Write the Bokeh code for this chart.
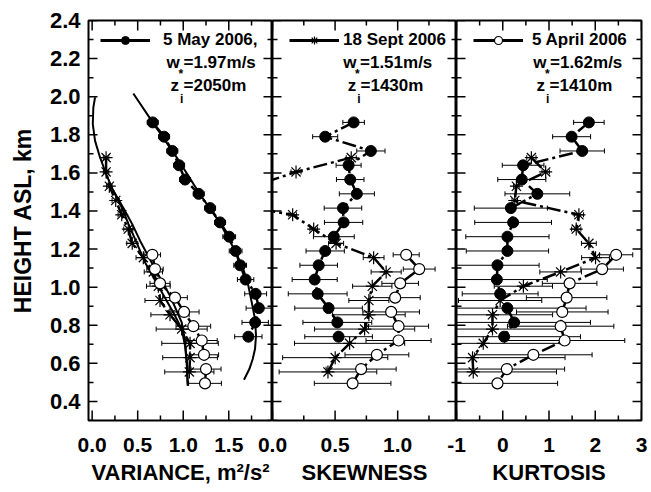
import math
from bokeh.plotting import figure
from bokeh.models import (Range1d, LinearAxis, FixedTicker, Legend, LegendItem, Label,
                          PrintfTickFormatter)
from bokeh.layouts import row
from bokeh.embed import file_html
from bokeh.resources import INLINE

FONT = "Liberation Sans"
NAN = float("nan")

# ---------------- data ----------------
# 5 May 2006 (filled circles)
h_may = [1.865, 1.79, 1.715, 1.64, 1.565, 1.49, 1.415, 1.34, 1.265, 1.19, 1.115, 1.04, 0.965, 0.89, 0.815, 0.74]
var_may = [0.665, 0.79, 0.88, 0.955, 1.02, 1.17, 1.295, 1.405, 1.505, 1.575, 1.625, 1.685, 1.795, 1.83, 1.79, 1.715]
var_may_err = [0.06, 0.06, 0.06, 0.06, 0.06, 0.06, 0.06, 0.06, 0.07, 0.07, 0.07, 0.09, 0.12, 0.14, 0.145, 0.15]
skew_may = [0.648, 0.421, 0.786, 0.608, 0.621, 0.674, 0.563, 0.568, 0.49, 0.421, 0.369, 0.337, 0.361, 0.448, 0.518, 0.528]
skew_may_err = [0.086, 0.10, 0.113, 0.10, 0.11, 0.14, 0.15, 0.153, 0.163, 0.153, 0.15, 0.18, 0.235, 0.27, 0.275, 0.27]
kurt_may = [1.862, 1.489, 1.718, 0.440, 0.412, 0.748, 0.175, 0.224, 0.101, 0.101, -0.114, -0.127, -0.056, 0.101, 0.246, 0.030]
kurt_may_err = [0.33, 0.41, 0.48, 0.45, 0.52, 0.70, 0.79, 0.83, 0.90, 0.89, 0.90, 1.09, 0.82, 1.70, 1.65, 1.65]

# 18 Sept 2006 (asterisks)
h_sept = [1.68, 1.605, 1.53, 1.455, 1.38, 1.305, 1.23, 1.155, 1.08, 1.005, 0.93, 0.855, 0.78, 0.705, 0.63, 0.555]
var_sept = [0.153, 0.153, 0.189, 0.259, 0.325, 0.397, 0.44, 0.562, 0.672, 0.727, 0.745, 0.855, 0.983, 1.075, 1.075, 1.067]
var_sept_err = [0.03, 0.03, 0.03, 0.04, 0.04, 0.05, 0.06, 0.08, 0.10, 0.13, 0.165, 0.21, 0.28, 0.31, 0.30, 0.27]
skew_sept = [0.629, 0.188, -0.15, -0.5, 0.161, 0.329, 0.508, 0.808, 0.908, 0.797, 0.770, 0.770, 0.736, 0.616, 0.501, 0.443]
skew_sept_err = [0.04, 0.04, 0.04, 0.04, 0.03, 0.03, 0.06, 0.083, 0.12, 0.157, 0.16, 0.29, 0.40, 0.44, 0.42, 0.39]
kurt_sept = [0.619, 0.928, 0.295, 0.260, 1.647, 1.589, 1.862, 2.006, 1.252, 0.446, -0.056, -0.222, -0.222, -0.422, -0.653, -0.638]
kurt_sept_err = [0.10, 0.08, 0.06, 0.06, 0.10, 0.10, 0.16, 0.30, 0.45, 0.63, 0.90, 1.30, 1.50, 1.80, 2.00, 1.80]

# 5 April 2006 (open circles)
h_april = [1.17, 1.095, 1.02, 0.945, 0.87, 0.795, 0.72, 0.645, 0.57, 0.495]
var_april = [0.661, 0.690, 0.745, 0.910, 1.009, 1.111, 1.203, 1.228, 1.250, 1.239]
var_april_err = [0.09, 0.09, 0.11, 0.135, 0.165, 0.19, 0.17, 0.16, 0.165, 0.18]
skew_april = [1.068, 1.172, 1.020, 0.980, 0.948, 1.007, 1.007, 0.834, 0.708, 0.640]
skew_april_err = [0.104, 0.127, 0.146, 0.20, 0.226, 0.24, 0.26, 0.255, 0.28, 0.306]
kurt_april = [2.451, 2.149, 1.446, 1.381, 1.287, 1.252, 1.338, 0.662, 0.088, -0.114]
kurt_april_err = [0.36, 0.46, 0.59, 0.87, 0.99, 1.15, 1.30, 1.27, 1.25, 1.30]

# fitted variance profiles (solid curves, panel 1)
fit_may_var = [0.452, 0.665, 0.93, 1.18, 1.40, 1.569, 1.660, 1.715, 1.752, 1.788, 1.799, 1.788, 1.763, 1.726, 1.667]
fit_may_h = [2.017, 1.865, 1.68, 1.49, 1.34, 1.191, 1.095, 1.007, 0.920, 0.833, 0.745, 0.675, 0.623, 0.570, 0.514]
fit_sept_var = [0.032, 0.013, 0.007, 0.032, 0.087, 0.153, 0.233, 0.325, 0.40, 0.474, 0.581, 0.745, 0.891, 0.983, 1.020, 1.038, 1.049]
fit_sept_h = [1.996, 1.943, 1.856, 1.768, 1.681, 1.594, 1.506, 1.418, 1.331, 1.25, 1.130, 0.990, 0.867, 0.780, 0.692, 0.605, 0.482]
fit_april_var = [0.233, 0.34, 0.44, 0.526, 0.672, 0.855, 0.983, 1.02, 1.04, 1.05]
fit_april_h = [1.506, 1.418, 1.331, 1.244, 1.112, 0.955, 0.815, 0.72, 0.60, 0.49]

# axes
y_range = (0.3, 2.4)
y_ticks = [0.4, 0.6, 0.8, 1.0, 1.2, 1.4, 1.6, 1.8, 2.0, 2.2, 2.4]
y_minor = [0.3, 0.5, 0.7, 0.9, 1.1, 1.3, 1.5, 1.7, 1.9, 2.1, 2.3]
var_range = (-0.04, 1.98)
var_ticks = [0.0, 0.5, 1.0, 1.5]
var_minor = [0.25, 0.75, 1.25, 1.75]
skew_range = (0.0, 1.47)
skew_ticks = [0.0, 0.5, 1.0]
skew_minor = [0.25, 0.75, 1.25]
kurt_range = (-1.0, 3.0)
kurt_ticks = [-1, 0, 1, 2, 3]
kurt_minor = [-0.5, 0.5, 1.5, 2.5]

legend_dates = ["5 May 2006,", "18 Sept 2006", "5 April 2006"]
legend_wstar = ["=1.97m/s", "=1.51m/s", "=1.62m/s"]
legend_zi = ["=2050m", "=1430m", "=1410m"]

# ---------------- layout constants ----------------
H = 490
TOP = 20
FRAME_H = 400
FRAME_BOTTOM = TOP + FRAME_H
BOTTOM = H - FRAME_BOTTOM
OVERLAP = 20          # canvases of panels 2 and 3 overlap their left neighbour
DASH = "14 4 3 4"
LEG_FONT = "17px"


def text_axis(ax, size, standoff):
    ax.major_tick_line_color = None
    ax.minor_tick_line_color = None
    ax.major_tick_in = 0
    ax.major_tick_out = 0
    ax.minor_tick_in = 0
    ax.minor_tick_out = 0
    ax.axis_line_color = None
    ax.major_label_text_font = FONT
    ax.major_label_text_font_style = "bold"
    ax.major_label_text_color = "black"
    ax.major_label_text_font_size = size
    ax.major_label_standoff = standoff
    ax.axis_label_text_font = FONT
    ax.axis_label_text_font_style = "bold"
    ax.axis_label_text_color = "black"


def inner_ticks(p, xr, xt, xm):
    # y ticks on both vertical edges, x ticks on both horizontal edges (inward)
    for xe in xr:
        p.scatter(x=[xe] * len(y_ticks), y=y_ticks, marker="dash", size=18,
                  line_color="black", line_width=1.5)
        p.scatter(x=[xe] * len(y_minor), y=y_minor, marker="dash", size=10,
                  line_color="black", line_width=1.5)
    for ye in y_range:
        p.scatter(x=xt, y=[ye] * len(xt), marker="dash", angle=math.pi / 2, size=20,
                  line_color="black", line_width=1.5)
        p.scatter(x=xm, y=[ye] * len(xm), marker="dash", angle=math.pi / 2, size=10,
                  line_color="black", line_width=1.5)


def make_panel(width, xr, bl, br, xt, xm, xfmt, xtitle, ylabel, overlap=0):
    p = figure(width=width, height=H, x_range=Range1d(*xr), y_range=Range1d(*y_range),
               output_backend="svg", toolbar_location=None,
               x_axis_location=None, y_axis_location=None,
               min_border_left=bl, min_border_right=br,
               min_border_top=TOP, min_border_bottom=BOTTOM)
    p.xgrid.visible = False
    p.ygrid.visible = False
    p.outline_line_color = "black"
    p.outline_line_width = 2
    p.background_fill_color = "white"
    if overlap:
        p.border_fill_color = None
        p.styles = {"margin-left": f"-{overlap}px"}
    else:
        p.border_fill_color = "white"

    bottom = LinearAxis(ticker=FixedTicker(ticks=xt, minor_ticks=[]), axis_label=xtitle,
                        formatter=PrintfTickFormatter(format=xfmt))
    text_axis(bottom, "21px", 17)
    bottom.axis_label_standoff = 5
    bottom.axis_label_text_font_size = "22px"
    p.add_layout(bottom, "below")

    if ylabel is not None:
        left = LinearAxis(ticker=FixedTicker(ticks=y_ticks, minor_ticks=[]),
                          axis_label=ylabel, formatter=PrintfTickFormatter(format="%.1f"))
        text_axis(left, "22px", 8)
        left.axis_label_standoff = 11
        left.axis_label_text_font_size = "23px"
        p.add_layout(left, "left")

    inner_ticks(p, xr, xt, xm)
    return p


def errorbars(p, x, err, h):
    lo = [a - e for a, e in zip(x, err)]
    hi = [a + e for a, e in zip(x, err)]
    p.segment(x0=lo, x1=hi, y0=h, y1=h, line_color="black", line_width=1)
    p.scatter(x=lo + hi, y=list(h) + list(h), marker="dash", angle=math.pi / 2,
              size=5, line_color="black", line_width=1)


def series(p, x_may, e_may, x_sept, e_sept, x_apr, e_apr):
    errorbars(p, x_may, e_may, h_may)
    errorbars(p, x_sept, e_sept, h_sept)
    errorbars(p, x_apr, e_apr, h_april)
    p.line(x_may, h_may, line_color="black", line_width=2.5, line_dash=DASH)
    p.line(x_sept, h_sept, line_color="black", line_width=2.5, line_dash=DASH)
    p.line(x_apr, h_april, line_color="black", line_width=2.5, line_dash=DASH)


def markers(p, x_may, x_sept, x_apr):
    p.scatter(x_sept, h_sept, marker="asterisk", size=13, line_color="black", line_width=1.2)
    p.scatter(x_apr, h_april, marker="circle", size=11, fill_color="white",
              line_color="black", line_width=1.2)
    p.scatter(x_may, h_may, marker="circle", size=11, fill_color="black", line_color="black")


def legend_block(p, frame_left, glyph_left, marker_kw, idx, standoff, w_x, eq_w, z_x, eq_z):
    # legend-only renderers (nothing drawn in the plot area)
    lr = p.line(x=[NAN], y=[NAN], line_color="black", line_width=3)
    sr = p.scatter(x=[NAN], y=[NAN], line_color="black", **marker_kw)
    lg = Legend(items=[LegendItem(label=legend_dates[idx], renderers=[lr, sr])],
                location=(glyph_left - frame_left, FRAME_BOTTOM - 38 - 12),
                glyph_width=50, glyph_height=20, label_height=20, label_width=20,
                label_standoff=standoff, padding=0, margin=0, spacing=0,
                border_line_color=None, background_fill_alpha=0,
                label_text_font=FONT, label_text_font_style="bold",
                label_text_font_size=LEG_FONT, label_text_color="black")
    p.add_layout(lg)

    def lab(px, py, text, size, baseline):
        p.add_layout(Label(x=px - frame_left, y=FRAME_BOTTOM - py, x_units="screen",
                           y_units="screen", text=text, text_font=FONT,
                           text_font_style="bold", text_font_size=size,
                           text_color="black", text_baseline=baseline, text_align="left"))

    lab(w_x, 61.7, "w", LEG_FONT, "middle")
    lab(eq_w - 5, 73, "*", "12px", "alphabetic")
    lab(eq_w, 61.7, legend_wstar[idx], LEG_FONT, "middle")
    lab(z_x, 85, "z", LEG_FONT, "middle")
    lab(z_x + 9.5, 98, "i", "12px", "alphabetic")
    lab(eq_z, 85, legend_zi[idx], LEG_FONT, "middle")


# ---------------- panel 1: variance ----------------
p1 = make_panel(272, var_range, 88, 0, var_ticks, var_minor, "%.1f",
                "VARIANCE, m\u00b2/s\u00b2", "HEIGHT ASL, km")
series(p1, var_may, var_may_err, var_sept, var_sept_err, var_april, var_april_err)
p1.line(fit_may_var, fit_may_h, line_color="black", line_width=2)
p1.line(fit_sept_var, fit_sept_h, line_color="black", line_width=2)
p1.line(fit_april_var, fit_april_h, line_color="black", line_width=2)
markers(p1, var_may, var_sept, var_april)
legend_block(p1, 88, 100, dict(marker="circle", size=11, fill_color="black"), 0, 13,
             166, 183, 170, 183)

# ---------------- panel 2: skewness ----------------
p2 = make_panel(184 + OVERLAP, skew_range, OVERLAP, 0, skew_ticks, skew_minor, "%.1f",
                "SKEWNESS", None, overlap=OVERLAP)
series(p2, skew_may, skew_may_err, skew_sept, skew_sept_err, skew_april, skew_april_err)
markers(p2, skew_may, skew_sept, skew_april)
legend_block(p2, 272, 289, dict(marker="asterisk", size=14, line_width=1.2), 1, 4,
             342.7, 359.5, 347.3, 360)

# ---------------- panel 3: kurtosis ----------------
p3 = make_panel(185 + OVERLAP + 10, kurt_range, OVERLAP, 10, kurt_ticks, kurt_minor, "%d",
                "KURTOSIS", None, overlap=OVERLAP)
series(p3, kurt_may, kurt_may_err, kurt_sept, kurt_sept_err, kurt_april, kurt_april_err)
markers(p3, kurt_may, kurt_sept, kurt_april)
legend_block(p3, 456, 473, dict(marker="circle", size=11, fill_color="white", line_width=1.2),
             2, 9, 532.7, 549.5, 536, 549)

layout = row(p1, p2, p3, spacing=0)
open("out.html", "w").write(file_html(layout, INLINE))
